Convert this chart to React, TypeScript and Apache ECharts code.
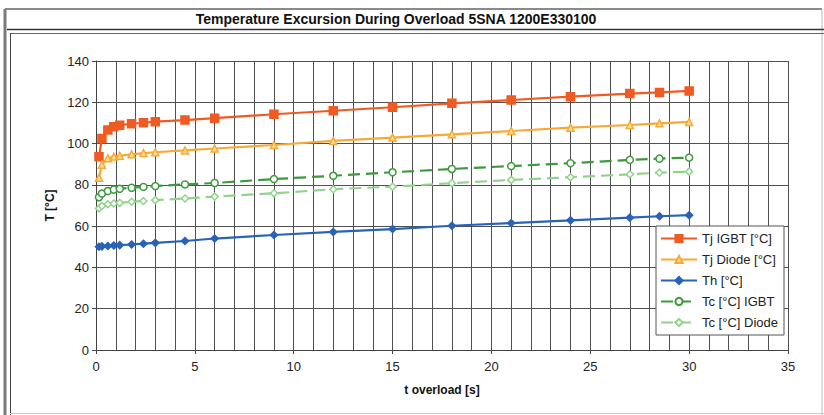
import React, { useEffect, useRef } from "react";
import * as echarts from "echarts";

const titleText = "Temperature Excursion During Overload 5SNA 1200E330100";
const xAxisName = "t overload [s]";
const yAxisName = "T [°C]";

const tValues = [0.15, 0.3, 0.6, 0.9, 1.2, 1.8, 2.4, 3, 4.5, 6, 9, 12, 15, 18, 21, 24, 27, 28.5, 30];
const tjIgbt = [93.6, 102.4, 106.6, 108.2, 108.9, 109.6, 110.1, 110.6, 111.4, 112.3, 114.2, 115.9, 117.6, 119.5, 121.1, 122.7, 124.2, 124.8, 125.5];
const tjDiode = [83.5, 89.8, 92.9, 93.7, 94.1, 94.8, 95.4, 95.8, 96.7, 97.6, 99.3, 101.3, 102.9, 104.5, 106.1, 107.7, 109.0, 109.8, 110.5];
const th = [50.0, 50.2, 50.4, 50.6, 50.8, 51.1, 51.5, 51.9, 52.8, 54.0, 55.7, 57.2, 58.6, 60.2, 61.5, 62.8, 64.1, 64.8, 65.3];
const tcIgbt = [74.0, 75.8, 77.0, 77.7, 78.1, 78.6, 79.0, 79.4, 80.2, 80.9, 82.8, 84.4, 86.1, 87.7, 89.1, 90.5, 92.1, 92.7, 93.2];
const tcDiode = [68.6, 69.8, 70.6, 71.0, 71.3, 71.8, 72.2, 72.6, 73.4, 74.3, 75.9, 77.9, 79.1, 80.8, 82.4, 83.7, 85.1, 85.9, 86.4];

const seriesNames = ["Tj IGBT [°C]", "Tj Diode [°C]", "Th [°C]", "Tc [°C] IGBT", "Tc [°C] Diode"];

const FONT = "Liberation Sans, Arial, sans-serif";

function pairs(ys: number[]) {
  return tValues.map((t, i) => [t, ys[i]]);
}

export default function App() {
  const ref = useRef<HTMLDivElement>(null);
  useEffect(() => {
    if (!ref.current) return;
    const chart = echarts.init(ref.current, null, { renderer: "svg" });
    const gridColor = "#505050";
    const mk = (
      name: string,
      ys: number[],
      color: string,
      symbol: string,
      symbolSize: number,
      dashed: boolean,
      fill: string
    ) => ({
      name,
      type: "line",
      data: pairs(ys),
      symbol,
      symbolSize,
      showSymbol: true,
      lineStyle: { color, width: 2.2, type: dashed ? [12, 6] : "solid" },
      itemStyle: { color: fill, borderColor: color, borderWidth: 1.5 },
      emphasis: { disabled: true },
      z: 3,
    });
    chart.setOption({
      animation: false,
      backgroundColor: "#ffffff",
      textStyle: { fontFamily: FONT },
      graphic: [
        { type: "line", shape: { x1: 5, y1: 9, x2: 822, y2: 9 }, style: { stroke: "#8a8a8a", lineWidth: 2 }, z: -1 },
        { type: "line", shape: { x1: 5, y1: 9, x2: 5, y2: 415 }, style: { stroke: "#7a7a7a", lineWidth: 3 }, z: -1 },
        { type: "line", shape: { x1: 822, y1: 9, x2: 822, y2: 415 }, style: { stroke: "#bbbbbb", lineWidth: 1 }, z: -1 },
        { type: "line", shape: { x1: 7, y1: 29.5, x2: 824, y2: 29.5 }, style: { stroke: "#333333", lineWidth: 1.5 }, z: -1 },
        { type: "line", shape: { x1: 10, y1: 33.5, x2: 824, y2: 33.5 }, style: { stroke: "#666666", lineWidth: 1 }, z: -1 },
        { type: "line", shape: { x1: 10.5, y1: 33, x2: 10.5, y2: 415 }, style: { stroke: "#444444", lineWidth: 1 }, z: -1 },
        { type: "line", shape: { x1: 10, y1: 413.5, x2: 824, y2: 413.5 }, style: { stroke: "#cccccc", lineWidth: 1 }, z: -1 },
        {
          type: "text",
          x: 396,
          y: 19,
          style: {
            text: titleText,
            fontFamily: FONT,
            fontWeight: "bold",
            fontSize: 14,
            fill: "#111",
            align: "center",
            verticalAlign: "middle",
          },
        },
      ],
      grid: { left: 96, top: 61, right: 36, bottom: 65, containLabel: false },
      legend: {
        orient: "vertical",
        left: 656,
        top: 226,
        data: seriesNames,
        backgroundColor: "#ffffff",
        borderColor: "#555555",
        borderWidth: 1,
        padding: [5, 6, 5, 4],
        itemGap: 6,
        itemWidth: 36,
        itemHeight: 9,
        textStyle: { fontFamily: FONT, fontSize: 13, color: "#222", lineHeight: 15 },
        z: 10,
      },
      xAxis: {
        type: "value",
        min: 0,
        max: 35,
        interval: 5,
        name: xAxisName,
        nameLocation: "middle",
        nameGap: 34,
        nameTextStyle: { fontFamily: FONT, fontWeight: "bold", fontSize: 12, color: "#111" },
        axisLine: { show: true, onZero: false, lineStyle: { color: "#444", width: 1 } },
        axisTick: { show: true, length: 4, lineStyle: { color: "#444" } },
        axisLabel: { fontFamily: FONT, fontSize: 13, color: "#222", margin: 10 },
        splitLine: { show: true, lineStyle: { color: gridColor, width: 1 } },
        minorTick: { show: false, splitNumber: 5 },
        minorSplitLine: { show: true, lineStyle: { color: gridColor, width: 1 } },
      },
      yAxis: {
        type: "value",
        min: 0,
        max: 140,
        interval: 20,
        name: yAxisName,
        nameLocation: "middle",
        nameGap: 36,
        nameRotate: 90,
        nameTextStyle: { fontFamily: FONT, fontWeight: "bold", fontSize: 12, color: "#111" },
        axisLine: { show: true, lineStyle: { color: "#444", width: 1 } },
        axisTick: { show: true, length: 4, lineStyle: { color: "#444" } },
        axisLabel: { fontFamily: FONT, fontSize: 13, color: "#222", margin: 7 },
        splitLine: { show: true, lineStyle: { color: gridColor, width: 1 } },
      },
      series: [
        mk(seriesNames[0], tjIgbt, "#f05a23", "rect", 8, false, "#f05a23"),
        mk(seriesNames[1], tjDiode, "#f9a838", "triangle", 7, false, "#fde38a"),
        mk(seriesNames[2], th, "#2962b8", "diamond", 7, false, "#2962b8"),
        mk(seriesNames[3], tcIgbt, "#3c9a3c", "circle", 7, true, "#ffffff"),
        mk(seriesNames[4], tcDiode, "#92d38c", "diamond", 7, true, "#ffffff"),
      ],
    });
    return () => chart.dispose();
  }, []);
  return (
    <div
      ref={ref}
      style={{ position: "fixed", left: 0, top: 0, width: 824, height: 415, background: "#fff" }}
    />
  );
}
